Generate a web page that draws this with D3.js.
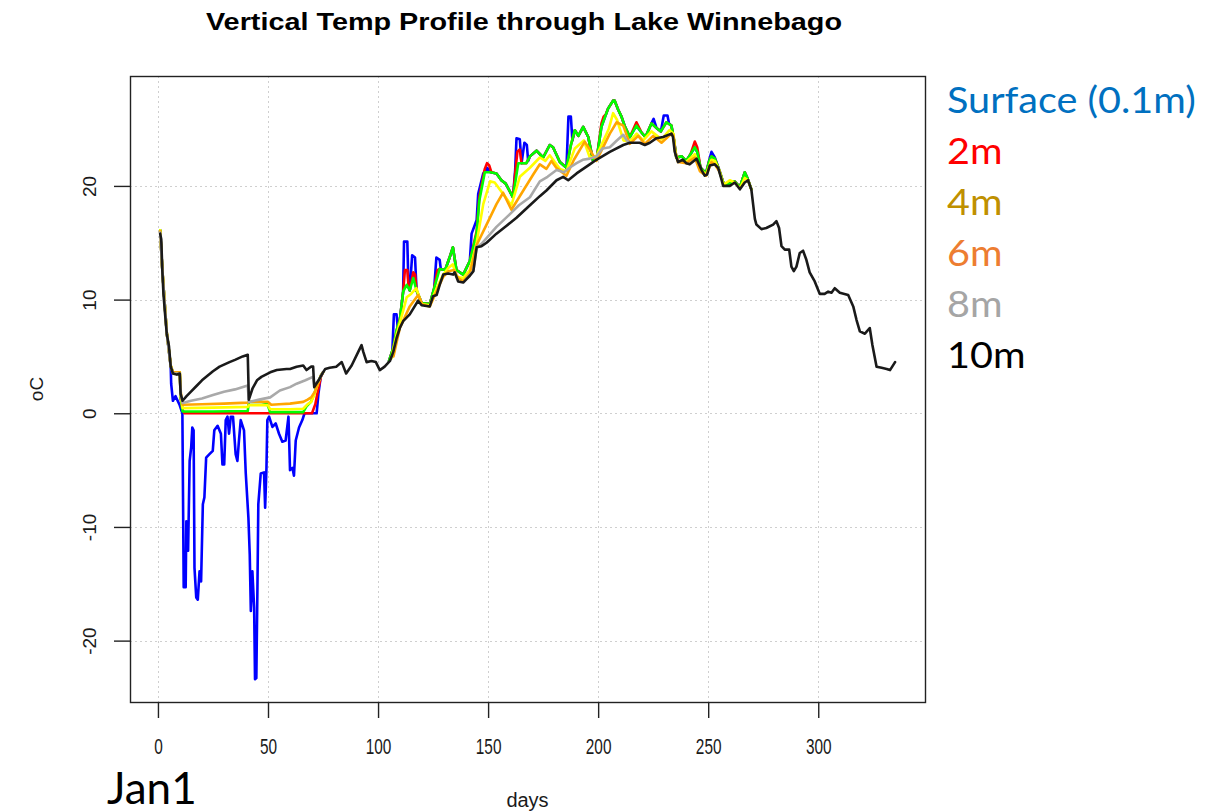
<!DOCTYPE html>
<html>
<head>
<meta charset="utf-8">
<script src="https://cdn.jsdelivr.net/npm/d3@7"></script>
<style>
  body { margin: 0; background: #fff; }
  svg { display: block; }
</style>
</head>
<body>
<svg id="chart" width="1225" height="812"></svg>
<script>
// tick values
const xTicks = [0, 50, 100, 150, 200, 250, 300];
const yTicks = [-20, -10, 0, 10, 20];

// legend (typed next to the plot, green line has no entry)
const legendLabels = ['Surface (0.1m)', '2m', '4m', '6m', '8m', '10m'];

// [day, degC]; null marks a gap where the line sits under the 10m line
const surface = [
  [1,16.1],[2,12.6],[4,7.1],[5.8,4.1],[6,2.6],[6.8,1.1],[8,1.5],[9.9,0.7],[11.1,0],[11.7,-15.3],[12.6,-15.3],[12.9,-9.5],
  [13.7,-12.1],[14.4,-4.2],[15.1,-3.0],[15.6,-1.25],[16.2,-1.5],[16.6,-13.6],[17.4,-16.2],[18.1,-16.4],[18.9,-13.9],
  [19.6,-14.8],[20.4,-8.0],[21.1,-7.4],[21.9,-3.9],[23.4,-3.6],[24.9,-3.3],[25.6,-1.5],[27.1,-1.1],[28.6,-1.8],[29.3,-4.5],
  [30.1,-4.5],[30.8,-0.6],[31.6,-0.3],[32.3,-1.8],[33.1,-0.3],[34.1,-0.3],[35.3,-3.6],[36.1,-4.2],[36.8,-2.4],[37.6,-0.6],
  [39.1,-1.5],[39.9,-5.3],[41.1,-9.2],[41.7,-12.4],[42.2,-17.4],[42.9,-13.9],[43.7,-17.1],[44.1,-23.4],[44.7,-23.3],
  [45.2,-15.3],[45.6,-8.0],[46.7,-5.3],[48.2,-5.2],[48.7,-8.3],[49.3,-4.8],[49.7,-0.6],[50.5,-0.3],[52,-1.2],[53.5,-0.9],
  [55,-1.8],[56.5,-2.5],[58,-2.4],[59.3,-0.3],[60,-5.0],[61.1,-4.8],[61.8,-5.5],[62.6,-2.4],[64.1,-1.25],[65.6,-0.6],
  [66.6,0],[72.1,0],[72.9,1.7],[74,3.3],[75,3.6],
  [90,null],
  [105,4.6],[106.5,5.5],[107.2,8.7],[108.4,8.7],[109,7.4],[109.9,8.2],[111.4,10.7],[111.8,15.1],[113.3,15.1],[113.8,11.3],
  [114.4,10.8],[115.5,13.9],[116.8,13.7],[117.5,10.8],[119.8,9.7],[123.5,9.6],[125.5,11.0],[126.5,13.7],[128,13.5],
  [128.5,12.7],[130.5,12.6],[132.5,13.7],[134,14.6],[135.6,12.6],[138.7,12.2],[141.7,13.4],[142.5,15.8],[144.8,17.0],
  [145.5,19.3],[147.8,21.1],[149.5,21.6],[151,21.2],[153.8,21.1],[156,20.5],[158,20.2],[161.3,19.0],[162.3,21.4],
  [162.9,24.2],[164.4,24.1],[165.2,22.0],[166.5,23.8],[167.6,23.6],[168.2,22.2],[169,22.6],[172,23.1],[175,22.5],
  [178,23.6],[179.5,23.4],[182.6,22.1],[185.6,21.6],[186.5,26.1],[187.6,26.1],[188.3,24.0],[189.4,24.9],[191,24.4],
  [193.2,25.2],[195.5,24.3],[197.7,22.2],[199.5,22.6],[201.5,25.2],[204.5,26.8],[206.8,27.5],[207.5,27.5],[209.1,26.7],
  [210.6,26.1],[212,25.3],[214.4,24.3],[217.4,25.3],[219.7,24.7],[221.5,24.3],[224.2,25.5],[225.2,25.9],[226.5,25.1],
  [228.5,24.8],[229.8,26.2],[231.5,26.2],[232.2,25.5],[233.3,25.3],[234.5,24.0],[235.5,22.5],[238,22.6],[240,22.2],
  [242,22.8],[243.9,23.4],[245,23.0],[246.5,21.6],[249,21.1],[250.5,22.3],[251.5,23.0],[253,22.5],[255,21.4],[257,20.2],
  [260,20.2],[262,20.4],[264.4,19.9],[266.6,21.2],[268,20.6],[269.6,19.7]
];

const depth2 = [
  [1,16.1],[2,12.6],[4,7.1],[5.8,4.2],[6.8,3.6],[9.9,3.6],[10.4,1.2],[11.2,0.3],[12,0],[70,0],[71.5,0.8],[72.5,1.8],
  [74,3.2],[75,3.6],
  [90,null],
  [105,4.6],[107,5.8],[108.4,7.3],[109.9,8.2],[111.4,10.7],[112.2,12.6],[113.3,12.6],[113.8,11.3],[114.4,10.8],[116,12.4],
  [116.8,12.2],[117.5,10.8],[119.8,9.7],[123.5,9.6],[125.5,11.0],[127,12.6],[128,12.7],[130.5,12.6],[132.5,13.7],
  [134,14.6],[135.6,12.6],[138.7,12.2],[141.7,13.4],[144.8,16.0],[146,19.0],[148.5,21.5],[149.5,22.0],[150.5,21.8],
  [151.5,21.2],[153.8,21.1],[156,20.5],[158,20.2],[161.3,19.0],[162.5,21.5],[163.3,23.0],[164.4,23.2],[165.2,22.0],
  [167.4,22.0],[169,22.6],[172,23.1],[175,22.5],[178,23.6],[179.5,23.4],[182.6,22.1],[185.6,21.6],[187.5,23.5],
  [189.4,24.9],[191,24.4],[193.2,25.2],[195.5,24.3],[197.7,22.2],[199.5,22.6],[201.5,25.5],[202.5,26.1],[203.5,26.3],
  [204.5,26.8],[206.8,27.5],[207.5,27.5],[209.1,26.7],[210.6,26.1],[212,25.3],[214.4,24.3],[217.4,25.6],[219.7,24.7],
  [221.5,24.3],[224.2,25.5],[226.5,25.1],[228.5,24.8],[231,25.6],[233.3,25.3],[234.5,24.0],[235.5,22.5],[238,22.6],
  [240,22.2],[242,22.8],[243.9,23.9],[245,23.4],[246.5,21.6],[249,21.1],[250.5,22.2],[251.5,22.6],[253,22.4],[255,21.4],
  [257,20.2],[260,20.2],[262,20.4],[264.4,19.9],[266.6,21.2],[268,20.6],[269.6,19.7]
];

// green line (not in the legend)
const depth3 = [
  [1,16.1],[2,12.6],[4,7.1],[5.8,4.2],[6.8,3.6],[9.9,3.6],[10.4,1.3],[11.2,0.15],[25,0.15],[40.8,0.2],[41.3,1.0],[47,1.0],
  [49.5,0.9],[51,0.1],[60,0.1],[66,0.1],[67.5,0.6],[69.5,1.0],[71,1.7],[72.5,2.6],[74,3.3],[75,3.6],
  [90,null],
  [105,4.6],[107,5.8],[108.4,7.3],[109.9,8.2],[111.4,10.7],[113,11.3],[114.4,10.8],[116,11.9],[117.5,10.8],[119.8,9.7],
  [123.5,9.6],[125.5,11.0],[128,12.7],[130.5,12.6],[132.5,13.7],[134,14.6],[135.6,12.6],[138.7,12.2],[141.7,13.4],
  [144.8,15.8],[146,18.7],[148.5,21.2],[151,21.2],[153.8,21.1],[156,20.5],[158,20.2],[161.3,19.0],[163.7,22.0],
  [167.4,22.0],[169,22.6],[172,23.1],[175,22.5],[178,23.6],[179.5,23.4],[182.6,22.1],[185.6,21.6],[187.5,23.5],
  [189.4,24.9],[191,24.4],[193.2,25.2],[195.5,24.3],[197.7,22.2],[199.5,22.6],[201.5,25.2],[204.5,26.8],[206.8,27.5],
  [207.5,27.5],[209.1,26.7],[210.6,26.1],[212,25.3],[214.4,24.3],[217.4,25.3],[219.7,24.7],[221.5,24.3],[224.2,25.5],
  [226.5,25.1],[228.5,24.8],[231,25.6],[233.3,25.3],[234.5,24.0],[235.5,22.5],[238,22.6],[240,22.2],[242,22.8],
  [243.9,23.4],[245,23.0],[246.5,21.6],[249,21.1],[250.5,22.2],[251.5,22.6],[253,22.4],[255,21.4],[257,20.2],[260,20.2],
  [262,20.4],[264.4,19.9],[266.6,21.2],[268,20.6],[269.6,19.7]
];

const depth4 = [
  [1,16.1],[2,12.6],[4,7.1],[5.8,4.2],[6.8,3.6],[9.9,3.6],[10.4,1.5],[11.2,0.45],[25,0.5],[40.8,0.56],[41.3,0.7],[50,0.7],
  [51,0.35],[60,0.35],[66,0.4],[68,0.8],[69.6,1.0],[71,1.6],[72.5,2.5],[74,3.3],[75,3.6],
  [90,null],
  [106,4.8],[108.4,6.9],[111.4,9.0],[113,10.2],[115,10.5],[117.4,11.0],[119.8,9.6],[123.5,9.5],[126.6,11.0],[129.6,12.2],
  [132,12.8],[134,13.1],[135.6,12.0],[138.7,11.9],[141.7,12.6],[144.8,15.0],[147.8,18.4],[150.9,20.4],[153,20.3],
  [156.8,19.3],[160.6,18.3],[164.4,20.8],[169,21.6],[173.5,22.5],[176,22.2],[178,22.7],[182.6,21.5],[185.6,21.3],
  [189.4,23.3],[193.5,24.0],[196.2,22.5],[199.2,22.6],[204.8,25.0],[206.8,26.4],[208.6,25.8],[211.5,24.0],[214.4,23.9],
  [217.5,24.6],[220.5,24.0],[224.2,24.8],[228.8,24.1],[232.4,24.9],[234.2,24.6],[235,23.0],[236.3,22.2],[240,22.1],
  [243.9,22.8],[246.2,21.5],[249,21.0],[251.5,22.3],[253,22.2],[255,21.4],[257,20.1],[259.8,20.5],[262,20.3],
  [264.4,19.8],[266.6,20.7],[268.1,20.5],[269.6,19.7]
];

const depth6 = [
  [1,16.0],[2,12.6],[4,7.1],[5.8,4.2],[6.8,3.6],[9.9,3.6],[10.4,1.8],[11.2,0.75],[20,0.8],[30,0.85],[40.8,0.94],[41.3,1.0],
  [50,1.0],[51.5,0.75],[55,0.8],[60,0.85],[66,1.0],[68,1.2],[69.6,1.4],[71.3,1.9],[72.5,2.5],[74,3.3],[75,3.6],
  [90,null],
  [107,5.0],[109.9,7.5],[114.4,9.4],[118.2,10.4],[120,9.6],[123.5,9.4],[126,10.5],[129.6,12.0],[132,12.5],[134.5,12.6],
  [136.4,11.9],[138.7,11.6],[141.7,12.3],[144.8,14.8],[149.3,16.6],[153.8,18.4],[156.8,19.4],[160.6,17.9],[166,19.6],
  [170.5,21.0],[173.5,21.9],[176.5,21.5],[178.8,22.2],[181,21.6],[185.6,20.9],[189,22.3],[193.9,23.9],[196.2,23.2],
  [199.2,22.2],[205.3,24.6],[208.4,25.6],[211.4,25.3],[214.4,23.7],[218.2,24.4],[221.2,23.7],[225,24.4],[228.8,23.8],
  [233.3,24.6],[234.2,24.4],[235,23.0],[236.3,22.1],[240,22.0],[243.9,22.5],[246.2,21.3],[249,20.9],[251.5,22.1],
  [253,21.9],[255,21.3]
];

const depth8 = [
  [1,15.9],[2,12.5],[4,7.0],[5.8,4.1],[6.8,3.5],[9.9,3.5],[10.3,1.7],[11.2,0.9],[15,1.1],[20,1.3],[25,1.6],[30,1.9],
  [35,2.1],[40.8,2.45],[41.3,1.0],[46,1.2],[51,1.4],[55.4,2.0],[60,2.3],[63,2.6],[67,2.9],[70.4,3.2],[71,2.5],[73,2.9],
  [75,3.6],
  [90,null],
  [140,11.8],[143.3,12.5],[144.8,14.6],[147,14.9],[149.3,15.4],[153.8,16.4],[159.8,17.5],[164,18.3],[169,19.0],
  [173.5,20.4],[177,20.8],[181.1,21.4],[184.5,21.2],[187,21.6],[190.2,22.0],[193,22.3],[196.2,22.4],[199.2,22.6],
  [202,23.3],[205.3,23.4],[208.5,24.0],[211.4,24.5],[213,24.0],[214.4,23.8]
];

const depth10 = [
  [1,15.8],[1.5,15.3],[2,12.5],[2.5,10.5],[3.2,8.8],[4,7.0],[5,5.9],[5.8,4.1],[6.8,3.5],[8.5,3.4],[9.9,3.5],[10.3,1.7],
  [11.2,1.1],[13,1.5],[15,1.9],[17.5,2.4],[20,2.9],[22.5,3.3],[25,3.7],[28,4.1],[32.5,4.5],[35,4.7],[38.5,5.0],
  [40.8,5.15],[41.3,1.2],[43,2.2],[45,2.9],[47,3.2],[51,3.6],[54,3.8],[58.4,3.9],[60,3.9],[63,4.1],[66,4.2],[67.5,3.8],
  [69.5,4.1],[70.5,4.1],[71,2.3],[73,2.9],[75,3.6],[76,3.9],[78,4.0],[81,4.1],[83.5,4.5],[85.5,3.5],[88,4.2],[91,5.4],
  [92.5,6.0],[93.3,5.4],[94.8,4.5],[97,4.6],[99,4.5],[100.8,3.8],[103,4.1],[105.4,4.6],[106.9,5.4],[108.4,6.6],
  [109.9,7.5],[111.4,8.1],[114.4,8.7],[116,9.2],[118.2,9.9],[119.8,9.5],[123.5,9.4],[125,10.3],[126.6,10.4],[128,11.3],
  [129.6,12.2],[131.9,12.3],[134.1,12.2],[134.8,12.4],[136.4,11.6],[138.7,11.5],[140.2,11.8],[141.7,12.1],[143.3,12.5],
  [144.8,14.6],[147,14.7],[149.3,15.0],[153.8,15.8],[158.4,16.5],[162.9,17.2],[169,18.3],[173.5,19.1],[176.5,19.6],
  [181.1,20.5],[184.1,20.8],[186.4,20.5],[190.2,21.1],[196.2,21.9],[199.2,22.3],[205.3,23.0],[211.4,23.6],[214.4,23.8],
  [218.9,23.8],[221.2,23.6],[223.5,23.8],[226.5,24.2],[229.5,24.3],[233.3,24.6],[234,24.3],[234.8,23.0],[236.3,22.1],
  [238.5,22.3],[240,22.0],[241.6,21.9],[244.7,22.4],[247,21.4],[248.4,20.9],[249.5,21.0],[250.7,21.8],[253,21.9],
  [254.5,21.6],[256,20.6],[256.8,20.0],[259.8,20.0],[262.1,20.3],[264.4,19.7],[266.6,20.3],[268.1,20.5],[269.6,19.7],
  [271.2,17.1],[271.9,16.6],[274.2,16.2],[276.4,16.3],[279.5,16.6],[281,16.9],[282.2,16.3],[283.3,14.7],[284.8,14.4],
  [286.8,14.4],[287.8,12.9],[288.9,12.5],[290.1,12.9],[291.6,14.1],[293.1,14.3],[294.6,13.5],[296.1,12.4],[298.4,11.6],
  [300.7,10.5],[302.9,10.5],[304.5,10.7],[306,10.6],[307.5,11.0],[309.8,10.6],[313.6,10.4],[315.9,9.4],[317.4,8.2],
  [318.9,7.2],[321.2,7.0],[323.4,7.5],[324.6,6.0],[326.5,4.1],[328.8,4.0],[331.1,3.9],[332.6,3.8],[334.9,4.5]
];

// draw order: surface first, 10m on top
const series = [
  {data: surface, color: '#0000ff'},
  {data: depth2, color: '#ff0000'},
  {data: depth3, color: '#00ff00'},
  {data: depth4, color: '#ffff00'},
  {data: depth6, color: '#ffa500'},
  {data: depth8, color: '#a9a9a9'},
  {data: depth10, color: '#1a1a1a'},
];
const legendColors = ['#0070c0', '#ff0000', '#bf9000', '#ed7d31', '#a5a5a5', '#000000'];

let dimensions = {
  width: 1225,
  height: 812,
  box: {left: 130, right: 925, top: 76, bottom: 702},
}

const svg = d3.select('#chart')
const rFont = '"Liberation Sans", Arial, sans-serif'
const officeFont = 'Lato, "Open Sans", sans-serif'

const x = d3.scaleLinear()
  .domain([-12.7, 348.5])
  .range([dimensions.box.left, dimensions.box.right])

const y = d3.scaleLinear()
  .domain([-25.4, 29.67])
  .range([dimensions.box.bottom, dimensions.box.top])

// dotted grid
const grid = svg.append('g')
  .attr('stroke', '#cfcfcf')
  .attr('stroke-width', 1)
  .attr('stroke-dasharray', '2,3')

grid.selectAll('.vgrid')
  .data(xTicks)
  .enter().append('line')
  .attr('x1', d => Math.round(x(d)) + 0.5)
  .attr('x2', d => Math.round(x(d)) + 0.5)
  .attr('y1', dimensions.box.top)
  .attr('y2', dimensions.box.bottom)

grid.selectAll('.hgrid')
  .data(yTicks)
  .enter().append('line')
  .attr('y1', d => Math.round(y(d)) + 0.5)
  .attr('y2', d => Math.round(y(d)) + 0.5)
  .attr('x1', dimensions.box.left)
  .attr('x2', dimensions.box.right)

svg.append('clipPath')
  .attr('id', 'clip')
  .append('rect')
  .attr('x', dimensions.box.left)
  .attr('y', dimensions.box.top)
  .attr('width', dimensions.box.right - dimensions.box.left)
  .attr('height', dimensions.box.bottom - dimensions.box.top)

const line = d3.line()
  .defined(d => d[1] !== null)
  .x(d => x(d[0]))
  .y(d => y(d[1]))

svg.append('g')
  .attr('clip-path', 'url(#clip)')
  .selectAll('path')
  .data(series)
  .enter().append('path')
  .attr('d', d => line(d.data))
  .attr('fill', 'none')
  .attr('stroke', d => d.color)
  .attr('stroke-width', 2.6)
  .attr('stroke-linejoin', 'round')
  .attr('stroke-linecap', 'round')

// axes
const xAxis = svg.append('g')
  .attr('transform', `translate(0, ${dimensions.box.bottom})`)
  .call(d3.axisBottom(x).tickValues(xTicks).tickSize(16).tickPadding(20).tickFormat(d3.format('d')))

const yAxis = svg.append('g')
  .attr('transform', `translate(${dimensions.box.left}, 0)`)
  .call(d3.axisLeft(y).tickValues(yTicks).tickSize(16).tickFormat(d => d < 0 ? '-' + Math.abs(d) : d))

svg.selectAll('.domain').remove()
svg.selectAll('.tick line').attr('stroke', '#222').attr('stroke-width', 1.4)
svg.selectAll('.tick text')
  .attr('fill', '#1a1a1a')
  .style('font-family', rFont)

// the plot was stretched taller than wide, so the digits are narrow
xAxis.selectAll('.tick text')
  .style('font-size', '22px')
  .attr('transform', 'scale(0.7, 1)')

yAxis.selectAll('.tick text')
  .style('font-size', '19px')
  .attr('transform', 'rotate(-90)')
  .attr('x', 0)
  .attr('y', -34)
  .attr('dy', 0)
  .style('text-anchor', 'middle')

// box
svg.append('rect')
  .attr('x', dimensions.box.left + 0.5)
  .attr('y', dimensions.box.top + 0.5)
  .attr('width', dimensions.box.right - dimensions.box.left)
  .attr('height', dimensions.box.bottom - dimensions.box.top)
  .attr('fill', 'none')
  .attr('stroke', '#222')
  .attr('stroke-width', 1.4)

// titles
svg.append('text')
  .attr('x', 206)
  .attr('y', 30)
  .attr('textLength', 636)
  .attr('lengthAdjust', 'spacingAndGlyphs')
  .style('font-family', rFont)
  .style('font-weight', 'bold')
  .style('font-size', '24px')
  .text('Vertical Temp Profile through Lake Winnebago')

svg.append('text')
  .attr('transform', `translate(43, ${(dimensions.box.top + dimensions.box.bottom) / 2}) rotate(-90)`)
  .attr('text-anchor', 'middle')
  .attr('fill', '#1a1a1a')
  .style('font-family', rFont)
  .style('font-size', '19px')
  .text('oC')

svg.append('text')
  .attr('x', (dimensions.box.left + dimensions.box.right) / 2)
  .attr('y', 807)
  .attr('text-anchor', 'middle')
  .attr('fill', '#1a1a1a')
  .style('font-family', rFont)
  .style('font-size', '20px')
  .text('days')

svg.append('text')
  .attr('x', 107)
  .attr('y', 804)
  .style('font-family', officeFont)
  .style('font-size', '44px')
  .text('Jan1')

// legend text
svg.append('g')
  .attr('transform', 'translate(947, 0) scale(1.07, 1)')
  .selectAll('.legend')
  .data(legendLabels)
  .enter().append('text')
  .attr('class', 'legend')
  .attr('x', 0)
  .attr('y', (d, i) => 113 + i * 51)
  .attr('fill', (d, i) => legendColors[i])
  .style('font-family', officeFont)
  .style('font-size', '37px')
  .text(d => d)
</script>
</body>
</html>
